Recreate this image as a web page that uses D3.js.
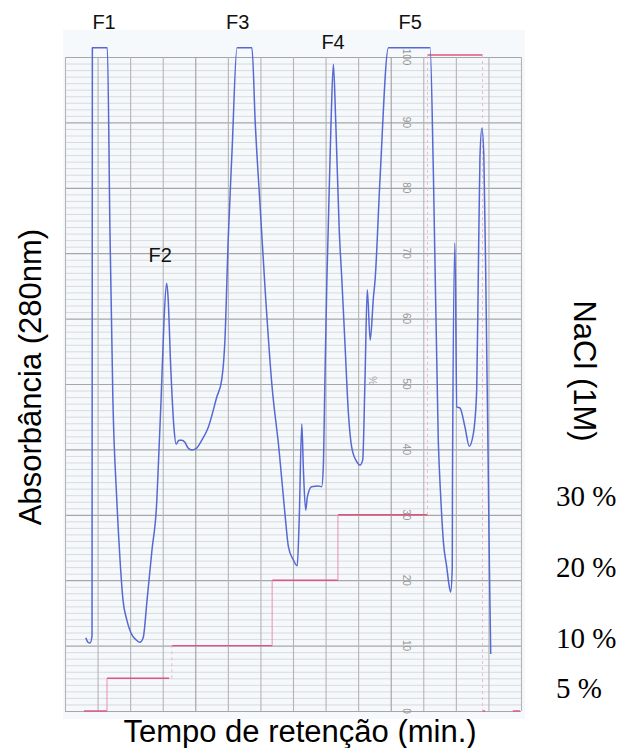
<!DOCTYPE html>
<html>
<head>
<meta charset="utf-8">
<script src="https://cdn.jsdelivr.net/npm/d3@7"></script>
<style>
  body { margin: 0; background: #fff; }
  svg { display: block; }
</style>
</head>
<body>
<svg id="chart" width="626" height="748"></svg>
<script>
// chromatogram
// time in paper columns, absorbance in chart % (0-100, pen clips a bit above 100)
const traceTime = [0.64, 0.71, 0.77, 0.83, 0.84, 1.30, 1.38, 1.47, 1.59, 1.69, 1.78, 1.90, 2.06, 2.18, 2.30, 2.40,
  2.52, 2.67, 2.82, 2.86, 2.95, 3.04, 3.12, 3.16, 3.25, 3.35, 3.41, 3.50, 3.59, 3.68, 3.78, 3.90, 4.02, 4.20,
  4.40, 4.66, 4.81, 4.91, 5.01, 5.13, 5.28, 5.74, 5.84, 5.98, 6.15, 6.35, 6.57, 6.75, 6.86, 7.01, 7.13, 7.19,
  7.27, 7.32, 7.39, 7.44, 7.57, 7.78, 7.88, 7.93, 7.98, 8.04, 8.08, 8.17, 8.24, 8.31, 8.42, 8.50, 8.60, 8.70,
  8.80, 8.96, 9.06, 9.14, 9.21, 9.28, 9.37, 9.47, 9.52, 9.67, 9.93, 11.21, 11.31, 11.46, 11.54, 11.62, 11.72,
  11.79, 11.84, 11.89, 11.895, 11.90, 11.97, 12.03, 12.13, 12.28, 12.41, 12.54, 12.64, 12.69, 12.74, 12.80,
  12.86, 12.93, 12.99, 13.03, 13.07];
const traceAbs = [11.2, 10.5, 10.4, 11.5, 101.4, 101.4, 73.5, 47.6, 32.3, 23.1, 17.0, 13.9, 11.6, 10.9, 10.5, 11.2,
  17.0, 24.6, 32.3, 36.9, 47.6, 59.8, 65.4, 63.6, 52.1, 43.0, 40.8, 41.4, 41.4, 41.1, 40.2, 39.9, 40.1, 41.4,
  43.4, 48.0, 50.6, 56.7, 72.0, 85.8, 101.4, 101.4, 90.0, 78.0, 64.0, 50.0, 40.0, 30.3, 25.1, 23.1, 22.2, 29.2,
  43.9, 36.8, 30.7, 32.7, 34.3, 34.4, 34.3, 37.3, 50.6, 65.9, 73.5, 90.4, 98.9, 90.4, 73.5, 65.9, 55.7, 45.6,
  40.4, 38.1, 37.6, 38.4, 50.6, 64.4, 56.7, 63.3, 65.9, 81.2, 101.4, 101.4, 82.3, 41.4, 32.3, 25.7, 22.0,
  19.3, 18.2, 22.0, 32.3, 38.8, 71.6, 46.5, 46.3, 43.4, 40.5, 42.5, 49.1, 67.0, 84.7, 89.1,
  84.7, 61.8, 38.8, 22.0, 8.7];

// NaCl step gradient (1M stock), one entry per plateau
const saltStart = [0.58, 1.29, 3.28, 6.36, 8.38, 11.13, 12.82, 13.75];
const saltEnd   = [1.29, 3.20, 6.36, 8.38, 11.13, 12.82, 12.90, 13.97];
const saltPct   = [0, 5, 10, 20, 30, 100.3, 0, 0];

// fraction labels
const fracNames = ["F1", "F2", "F3", "F4", "F5"];
const fracTime  = [1.20, 2.92, 5.30, 8.23, 10.60];
const fracAbs   = [104.3, 68.6, 104.3, 101.2, 104.3];

// printed scale on the paper
const paperTicks = d3.range(0, 101, 10);
const gradLabels = ["30 %", "20 %", "10 %", "5 %"];
const gradValues = [30, 20, 10, 5];

const svg = d3.select("#chart");

const x = d3.scaleLinear().domain([0, 14]).range([65, 521]);
const y = d3.scaleLinear().domain([0, 100]).range([711, 57]);

// paper sheet
svg.append("rect")
  .attr("x", 63).attr("y", 30)
  .attr("width", 462).attr("height", 689)
  .attr("fill", "#f6f9fc");

// horizontal rulings - every 1 %, heavier every 10
var hAxis = d3.axisLeft(y)
  .tickValues(d3.range(0, 101, 1))
  .tickSize(-(x(14) - x(0)))
  .tickFormat("");
var hg = svg.append("g")
  .attr("transform", "translate(" + x(0) + ",0)")
  .call(hAxis);
hg.select(".domain").remove();
hg.selectAll(".tick line")
  .attr("stroke", function(d) { return d % 10 === 0 ? "#a6a6a6" : "#d0d3d6"; })
  .attr("stroke-width", function(d) { return d % 10 === 0 ? 1.2 : 0.8; });

// vertical rulings
var vAxis = d3.axisBottom(x)
  .tickValues(d3.range(0, 15, 1))
  .tickSize(-(y(0) - y(100)))
  .tickFormat("");
var vg = svg.append("g")
  .attr("transform", "translate(0," + y(0) + ")")
  .call(vAxis);
vg.select(".domain").remove();
vg.selectAll(".tick line")
  .attr("stroke", function(d) { return (d === 4 || d === 10) ? "#9e9e9e" : "#b4b4b4"; })
  .attr("stroke-width", 1.1);

// numbers printed on the chart paper
svg.append("g").selectAll("text")
  .data(paperTicks)
  .join("text")
  .attr("transform", function(d) { return "translate(" + 403 + "," + y(d) + ") rotate(90)"; })
  .attr("text-anchor", "middle")
  .attr("font-family", "Liberation Sans, Arial, sans-serif")
  .attr("font-size", 10)
  .attr("fill", "#959595")
  .text(function(d) { return d; });
svg.append("text")
  .attr("transform", "translate(369," + y(50.5) + ") rotate(90)")
  .attr("text-anchor", "middle")
  .attr("font-family", "Liberation Sans, Arial, sans-serif")
  .attr("font-size", 10)
  .attr("fill", "#a0a0a0")
  .text("%");

// salt gradient
var salt = d3.range(saltPct.length);
svg.append("g").selectAll("line")
  .data(salt)
  .join("line")
  .attr("x1", function(i) { return x(saltStart[i]); })
  .attr("x2", function(i) { return x(saltEnd[i]); })
  .attr("y1", function(i) { return y(saltPct[i]); })
  .attr("y2", function(i) { return y(saltPct[i]); })
  .attr("stroke", "#e0557f")
  .attr("stroke-width", 1.4);
// risers between plateaus
var risers = salt.filter(function(i) {
  return i > 0 && Math.abs(saltStart[i] - saltEnd[i - 1]) < 0.2;
});
svg.append("g").selectAll("line")
  .data(risers)
  .join("line")
  .attr("x1", function(i) { return x(saltStart[i]); })
  .attr("x2", function(i) { return x(saltStart[i]); })
  .attr("y1", function(i) { return y(saltPct[i - 1]); })
  .attr("y2", function(i) { return y(saltPct[i]); })
  .attr("stroke", function(i) { return (i === 2 || i >= 5) ? "#f2b7c8" : "#eb8fab"; })
  .attr("stroke-width", 1)
  .attr("stroke-dasharray", function(i) { return (i === 2 || i >= 5) ? "3,3" : null; });

// absorbance trace
var trace = d3.range(traceTime.length).map(function(i) { return [traceTime[i], traceAbs[i]]; });
var line = d3.line()
  .x(function(d) { return x(d[0]); })
  .y(function(d) { return y(d[1]); })
  .curve(d3.curveMonotoneX);
svg.append("path")
  .datum(trace)
  .attr("d", line)
  .attr("fill", "none")
  .attr("stroke", "#5669d2")
  .attr("stroke-width", 1.5)
  .attr("stroke-linejoin", "round");

// fraction names
svg.append("g").selectAll("text")
  .data(fracNames)
  .join("text")
  .attr("x", function(d, i) { return x(fracTime[i]); })
  .attr("y", function(d, i) { return y(fracAbs[i]); })
  .attr("text-anchor", "middle")
  .attr("font-family", "Liberation Sans, Arial, sans-serif")
  .attr("font-size", 20)
  .attr("fill", "#111")
  .text(function(d) { return d; });

// titles
svg.append("text")
  .attr("transform", "translate(41,377) rotate(-90)")
  .attr("text-anchor", "middle")
  .attr("font-family", "Liberation Sans, Arial, sans-serif")
  .attr("font-size", 31)
  .attr("fill", "#000")
  .text("Absorbância (280nm)");

svg.append("text")
  .attr("transform", "translate(574,371) rotate(90)")
  .attr("text-anchor", "middle")
  .attr("font-family", "Liberation Sans, Arial, sans-serif")
  .attr("font-size", 31)
  .attr("fill", "#000")
  .text("NaCl (1M)");

svg.append("text")
  .attr("x", 300).attr("y", 742)
  .attr("text-anchor", "middle")
  .attr("font-family", "Liberation Sans, Arial, sans-serif")
  .attr("font-size", 31)
  .attr("fill", "#000")
  .text("Tempo de retenção (min.)");

// gradient percentages on the right
var nudge = [-9, -3, 2, 20];
svg.append("g").selectAll("text")
  .data(gradLabels)
  .join("text")
  .attr("x", 556)
  .attr("y", function(d, i) { return y(gradValues[i]) + nudge[i]; })
  .attr("font-family", "Liberation Serif, Times New Roman, serif")
  .attr("font-size", 29)
  .attr("fill", "#000")
  .text(function(d) { return d; });
</script>
</body>
</html>
